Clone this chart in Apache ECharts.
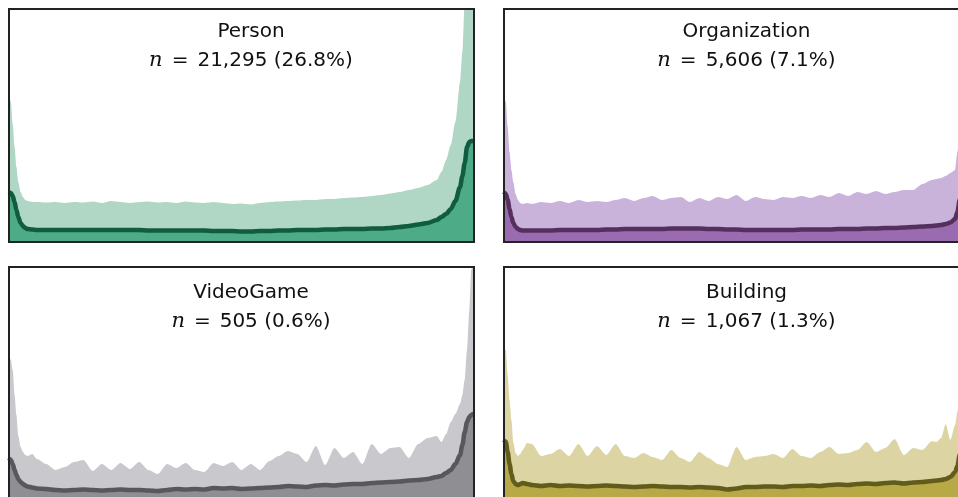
<!DOCTYPE html>
<html>
<head>
<meta charset="utf-8">
<script src="https://cdn.jsdelivr.net/npm/echarts@6/dist/echarts.min.js"></script>
<style>
  html, body { margin: 0; padding: 0; background: #ffffff; }
  #chart { width: 958px; height: 497px; }
</style>
</head>
<body>
<div id="chart"></div>
<script>
// Relative position along the text (0 = start, 100 = end)
const xs = [0,0.4,0.8,1.2,1.6,2,2.5,3,3.5,4,5,6,
  8,10,12,14,16,18,20,22,24,26,28,30,32,34,36,38,40,42,44,46,48,50,52,54,56,58,60,62,64,66,68,70,72,74,76,78,80,82,84,86,88,90,92,
  93,94,95,96,97,97.5,98,98.5,99,99.4,99.8,100];

// Panel titles
const categoryNames = ['Person', 'Organization', 'VideoGame', 'Building'];
const counts = ['21,295', '5,606', '505', '1,067'];
const shares = ['26.8%', '7.1%', '0.6%', '1.3%'];

// Density values (arbitrary units) – light band (upper) and dark line (lower)
const personUpper = [148,140,118,95,75,60,50,45,42,41,40,40,
  39.5,40,39,40,39.5,40.5,39,41,40,39,40,40.5,39.5,40,39,40.5,39.5,39,40,39,38,38.5,37.5,39,40,40.5,41,41.5,42,42,43,43,44,44.5,45,46,47,48.5,50,52,54,57,62,
  70,82,97,120,160,190,240,250,250,250,250,250];
const personLower = [50,49,46,40,32,25,19,16,14,13,12.5,12,
  12,12,12,12,12,12,12,12,12,12,12,11.5,11.5,11.5,11.5,11.5,11.5,11.5,11,11,11,10.5,10.5,11,11,11.5,11.5,12,12,12,12.5,12.5,13,13,13,13.5,13.5,14,15,16,17.5,19,22,
  25,28,33,41,55,66,79,95,100,101,101,101];

const orgUpper = [148,140,115,90,72,60,48,42,39,38,39,38,
  40,39,41,39,42,40,41,40,42,44,41,44,46,42,44,45,40,44,41,45,43,47,41,45,43,42,45,44,46,44,47,45,49,46,50,48,51,48,50,52,52,58,62,
  63,64,66,69,72,90,110,140,180,220,240,240];
const orgLower = [50,48,42,33,25,19,15,13,12,11.5,11.5,11.5,
  11.5,11.5,12,12,12,12,12,12.5,12.5,13,13,13,13,13,13.5,13.5,13.5,13.5,13,13,12.5,12.5,12,12,12,12,12,12,12.5,12.5,12.5,12.5,13,13,13,13.5,13.5,14,14,14.5,15,15.5,16,
  16.5,17,18,19.5,23,30,42,60,80,95,100,100];

const gameUpper = [145,140,130,105,85,64,53,48,45,44,46,41,
  36,30,33,38,40,29,36,30,37,31,38,30,26,36,32,37,30,28,37,34,38,30,36,30,39,44,49,46,38,54,35,52,42,48,36,56,46,52,53,42,56,62,64,
  58,66,78,86,96,105,120,150,190,230,240,240];
const gameLower = [42,40,36,30,25,21,18,16,14.5,13.5,12.5,11.5,
  11,10,9.5,10,10.5,10,9.5,10,10.5,10,10,9.5,9,10,11,10.5,11,10.5,12,11.5,12,11,11.5,12,12.5,13,14,13.5,13,14.5,15,14.5,15.5,16,16,17,17.5,18,18.5,19.5,20,21,23,
  24,27,30,36,45,55,68,78,83,85,86,86];

const buildingUpper = [152,150,125,100,80,58,47,44,46,50,57,56,
  44,46,51,44,56,44,54,45,56,44,42,47,43,40,50,42,38,48,42,36,33,53,40,43,44,46,42,51,44,42,48,53,46,47,50,58,48,52,61,45,52,50,59,
  58,62,76,60,75,88,110,140,180,220,240,240];
const buildingLower = [60,58,48,36,26,19,16,15,16,17,16,15,
  14,15,14,14.5,14,13.5,14,14.5,14,13.5,13,13.5,14,13.5,13,13,12.5,13,12.5,12,10.5,11.5,13,13,13.5,13.5,13,14,14,14.5,14,15,15.5,15,16,16.5,16,17,17.5,16.5,17.5,18,19,
  19.5,20,21,23,28,34,45,60,75,85,90,90];

const uppers = [personUpper, orgUpper, gameUpper, buildingUpper];
const lowers = [personLower, orgLower, gameLower, buildingLower];

// Styling / layout
const palette = [
  { light: '#b0d7c5', fill: '#4dab88', line: '#105c40' },
  { light: '#c9b3db', fill: '#9a6bb1', line: '#55305f' },
  { light: '#c9c9cd', fill: '#8e8e93', line: '#58585c' },
  { light: '#dcd5a3', fill: '#b7a946', line: '#615b1c' }
];
const panelW = 465, panelH = 233;
const panelPos = [[9, 9], [504, 9], [9, 267], [504, 267]];
const titleCx = [251, 746.5, 251, 746.5];
const titleY1 = [32, 32, 293, 293];
const titleY2 = [61, 61, 322, 322];

const pair = (arr) => xs.map((x, i) => [x, arr[i]]);

const grids = [], xAxes = [], yAxes = [], series = [], graphics = [];
for (let i = 0; i < 4; i++) {
  grids.push({
    left: panelPos[i][0], top: panelPos[i][1], width: panelW, height: panelH,
    show: true, backgroundColor: 'transparent', borderColor: '#222', borderWidth: 2,
    containLabel: false, outerBoundsMode: 'none', z: 10
  });
  xAxes.push({ gridIndex: i, type: 'value', min: 0, max: 100, show: false });
  yAxes.push({ gridIndex: i, type: 'value', min: 0, max: panelH, show: false });
  series.push({
    type: 'line', xAxisIndex: i, yAxisIndex: i, data: pair(uppers[i]),
    showSymbol: false, smooth: 0.25, smoothMonotone: 'x', clip: true,
    lineStyle: { width: 0, color: palette[i].light },
    areaStyle: { color: palette[i].light, opacity: 1 },
    silent: true, animation: false, z: 2
  });
  series.push({
    type: 'line', xAxisIndex: i, yAxisIndex: i, data: pair(lowers[i]),
    showSymbol: false, smooth: 0.3, smoothMonotone: 'x', clip: true,
    lineStyle: { width: 4.5, color: palette[i].line },
    areaStyle: { color: palette[i].fill, opacity: 1 },
    silent: true, animation: false, z: 3
  });
  graphics.push({
    type: 'text', x: titleCx[i], y: titleY1[i], z: 20,
    style: { text: categoryNames[i], fill: '#111', font: '20px "DejaVu Sans"', align: 'center', verticalAlign: 'middle' }
  });
  graphics.push({
    type: 'text', x: titleCx[i], y: titleY2[i], z: 20,
    style: {
      text: '{i|n}{e|=}{t|' + counts[i] + ' (' + shares[i] + ')}',
      fill: '#111', font: '20px "DejaVu Sans"', align: 'center', verticalAlign: 'middle',
      rich: {
        i: { fontFamily: 'DejaVu Serif', fontStyle: 'italic', fontSize: 21, fill: '#111' },
        e: { fontFamily: 'DejaVu Sans', fontSize: 20, padding: [0, 9], fill: '#111' },
        t: { fontFamily: 'DejaVu Sans', fontSize: 20, fill: '#111' }
      }
    }
  });
}

const chart = echarts.init(document.getElementById('chart'), null, { renderer: 'canvas' });
chart.setOption({
  animation: false,
  backgroundColor: '#ffffff',
  grid: grids,
  xAxis: xAxes,
  yAxis: yAxes,
  series: series,
  graphic: graphics
});
</script>
</body>
</html>
